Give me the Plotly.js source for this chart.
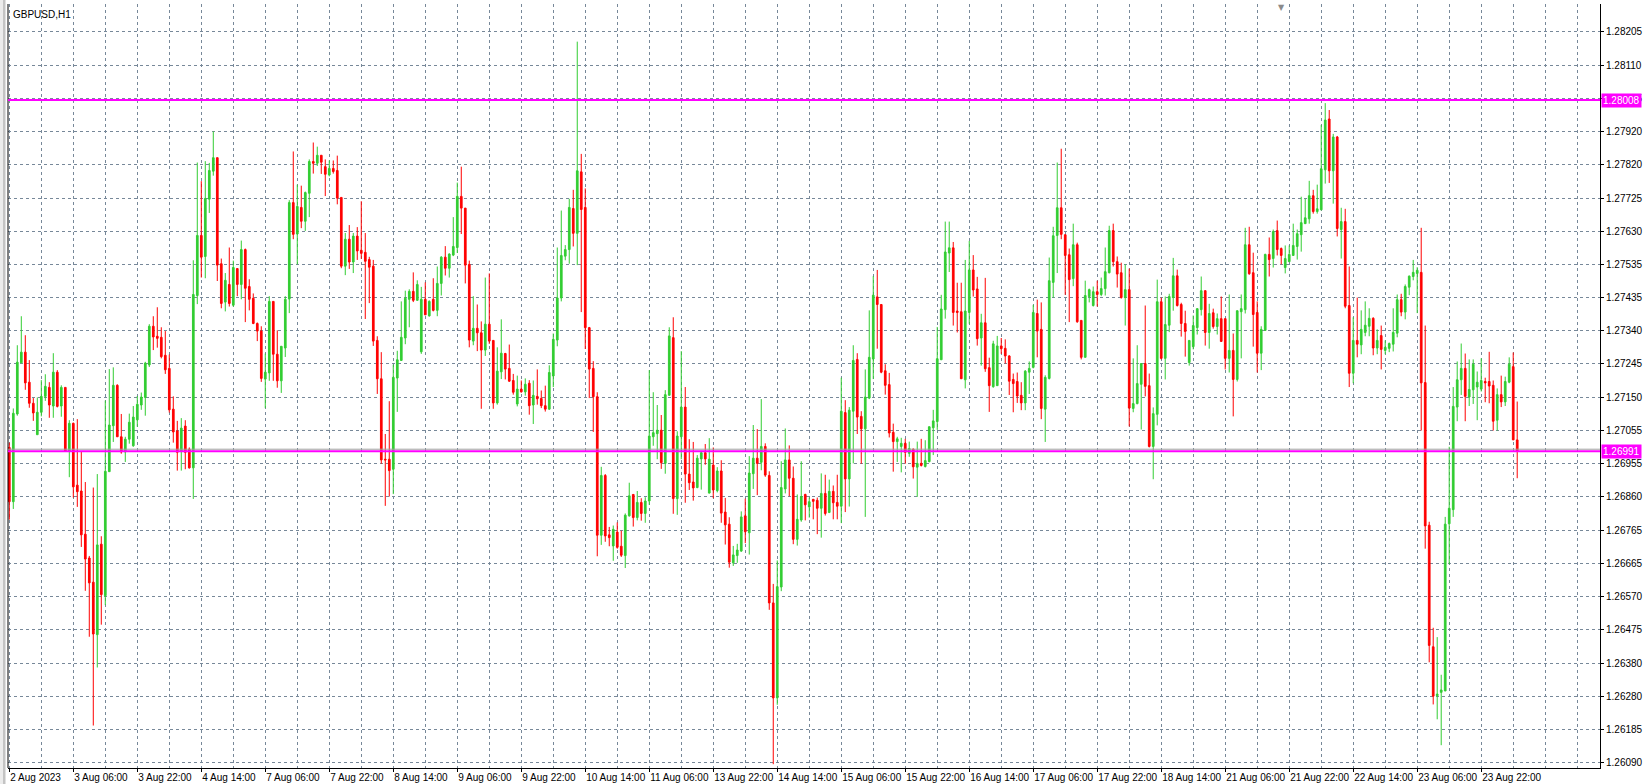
<!DOCTYPE html>
<html><head><meta charset="utf-8">
<script src="https://cdn.plot.ly/plotly-3.0.1.min.js"></script>
<style>html,body{margin:0;padding:0;background:#fff;overflow:hidden}#chart{width:1645px;height:784px}</style>
</head><body><div id="chart"></div>
<script>
const symbolTitle = "GBPUSD,H1";

const openPrices = [
1.27002,1.26845,1.27099,1.27247,1.27278,1.27191,1.27130,1.27039,1.27104,1.27150,
1.27176,1.27122,1.27220,1.27122,1.27176,1.26991,1.27072,1.26893,1.26876,1.26751,
1.26682,1.26612,1.26460,1.26722,1.26573,1.26932,1.27065,1.27182,1.27033,1.26989,
1.27026,1.27007,1.27082,1.27125,1.27147,1.27241,1.27353,1.27324,1.27321,1.27269,
1.27231,1.27113,1.27050,1.26990,1.27064,1.26997,1.26943,1.27442,1.27616,1.27555,
1.27721,1.27802,1.27841,1.27534,1.27423,1.27474,1.27414,1.27520,1.27474,1.27575,
1.27468,1.27434,1.27361,1.27339,1.27200,1.27218,1.27425,1.27272,1.27195,1.27290,
1.27432,1.27711,1.27620,1.27697,1.27657,1.27738,1.27830,1.27825,1.27848,1.27815,
1.27791,1.27810,1.27804,1.27726,1.27527,1.27605,1.27539,1.27614,1.27573,1.27567,
1.27546,1.27527,1.27312,1.27201,1.26968,1.26968,1.26939,1.27203,1.27254,1.27319,
1.27431,1.27454,1.27428,1.27279,1.27431,1.27383,1.27431,1.27399,1.27477,1.27553,
1.27521,1.27559,1.27581,1.27729,1.27695,1.27532,1.27310,1.27347,1.27334,1.27284,
1.27359,1.27312,1.27131,1.27221,1.27274,1.27231,1.27196,1.27128,1.27171,1.27163,
1.27188,1.27125,1.27150,1.27144,1.27123,1.27113,1.27209,1.27313,1.27435,1.27556,
1.27575,1.27694,1.27622,1.27800,1.27697,1.27349,1.27231,1.27149,1.26748,1.26921,
1.26749,1.26717,1.26757,1.26716,1.26689,1.26804,1.26866,1.26799,1.26843,1.26811,
1.26847,1.27033,1.27042,1.27052,1.26956,1.27153,1.27320,1.26854,1.27033,1.27119,
1.26925,1.26902,1.26886,1.26969,1.26987,1.26870,1.26951,1.26877,1.26934,1.26815,
1.26780,1.26668,1.26689,1.26702,1.26804,1.26755,1.26926,1.26971,1.26959,1.27005,
1.26921,1.26552,1.26277,1.26598,1.26882,1.26966,1.26913,1.26736,1.26792,1.26866,
1.26830,1.26852,1.26849,1.26826,1.26869,1.26814,1.26875,1.26843,1.26832,1.27103,
1.26911,1.27107,1.27257,1.27092,1.27056,1.27145,1.27258,1.27438,1.27416,1.27224,
1.27184,1.27046,1.27019,1.27005,1.27014,1.26985,1.26997,1.26945,1.26956,1.26947,
1.26961,1.27059,1.27077,1.27256,1.27401,1.27565,1.27580,1.27397,1.27395,1.27198,
1.27393,1.27516,1.27461,1.27319,1.27363,1.27233,1.27178,1.27181,1.27296,1.27289,
1.27267,1.27199,1.27193,1.27153,1.27131,1.27220,1.27234,1.27390,1.27344,1.27113,
1.27202,1.27480,1.27616,1.27696,1.27618,1.27560,1.27491,1.27589,1.27370,1.27263,
1.27439,1.27413,1.27453,1.27445,1.27462,1.27508,1.27630,1.27540,1.27508,1.27436,
1.27459,1.27115,1.27129,1.27185,1.27245,1.27181,1.27005,1.27098,1.27424,1.27260,
1.27356,1.27436,1.27499,1.27416,1.27361,1.27248,1.27294,1.27349,1.27401,1.27456,
1.27335,1.27392,1.27352,1.27375,1.27375,1.27260,1.27283,1.27199,1.27395,1.27401,
1.27589,1.27508,1.27393,1.27275,1.27341,1.27561,1.27549,1.27630,1.27578,1.27523,
1.27540,1.27558,1.27584,1.27618,1.27650,1.27664,1.27731,1.27685,1.27690,1.27806,
1.27953,1.27803,1.27901,1.27633,1.27656,1.27413,1.27217,1.27312,1.27299,1.27335,
1.27353,1.27376,1.27290,1.27326,1.27283,1.27289,1.27301,1.27333,1.27430,1.27394,
1.27466,1.27497,1.27506,1.27509,1.27190,1.26777,1.26425,1.26283,1.26293,1.26297,
1.26781,1.26822,1.27119,1.27198,1.27231,1.27148,1.27169,1.27177,1.27171,1.27193,
1.27193,1.27182,1.27081,1.27155,1.27134,1.27191,1.27236,1.27024
];

const highPrices = [
1.27016,1.27115,1.27298,1.27382,1.27327,1.27255,1.27145,1.27147,1.27197,1.27214,
1.27191,1.27275,1.27226,1.27182,1.27176,1.27081,1.27074,1.27084,1.26991,1.26902,
1.26688,1.26886,1.26925,1.26745,1.27138,1.27229,1.27234,1.27185,1.27099,1.27033,
1.27100,1.27122,1.27151,1.27161,1.27250,1.27359,1.27382,1.27408,1.27350,1.27339,
1.27271,1.27150,1.27079,1.27087,1.27081,1.27002,1.27544,1.27827,1.27773,1.27831,
1.27826,1.27917,1.27841,1.27549,1.27507,1.27581,1.27543,1.27520,1.27601,1.27578,
1.27489,1.27448,1.27364,1.27353,1.27274,1.27440,1.27425,1.27341,1.27295,1.27440,
1.27718,1.27859,1.27763,1.27760,1.27743,1.27836,1.27885,1.27873,1.27848,1.27836,
1.27833,1.27833,1.27847,1.27726,1.27623,1.27646,1.27623,1.27640,1.27715,1.27623,
1.27554,1.27545,1.27324,1.27278,1.27041,1.27136,1.27242,1.27282,1.27425,1.27456,
1.27460,1.27509,1.27486,1.27467,1.27480,1.27428,1.27492,1.27526,1.27556,1.27585,
1.27564,1.27669,1.27769,1.27815,1.27695,1.27543,1.27440,1.27416,1.27367,1.27494,
1.27506,1.27312,1.27292,1.27373,1.27276,1.27300,1.27215,1.27210,1.27196,1.27202,
1.27197,1.27196,1.27228,1.27167,1.27181,1.27240,1.27332,1.27581,1.27688,1.27588,
1.27722,1.27748,1.28177,1.27852,1.27752,1.27351,1.27252,1.27162,1.26946,1.26925,
1.26772,1.26776,1.26785,1.26761,1.26811,1.26900,1.26866,1.26876,1.26855,1.26858,
1.27226,1.27162,1.27125,1.27096,1.27168,1.27350,1.27379,1.27049,1.27281,1.27177,
1.27026,1.27018,1.26980,1.26992,1.27012,1.27029,1.27002,1.26945,1.26965,1.26856,
1.26800,1.26717,1.26723,1.26817,1.26854,1.26977,1.27067,1.27055,1.27142,1.27014,
1.26933,1.26607,1.26675,1.26962,1.27057,1.27008,1.26947,1.26866,1.26962,1.26868,
1.26857,1.26852,1.26857,1.26927,1.26923,1.26909,1.26892,1.26923,1.27204,1.27139,
1.27119,1.27298,1.27275,1.27107,1.27228,1.27399,1.27498,1.27516,1.27416,1.27243,
1.27218,1.27071,1.27033,1.27030,1.27027,1.27019,1.26999,1.27019,1.27027,1.27023,
1.27063,1.27111,1.27351,1.27444,1.27656,1.27656,1.27597,1.27479,1.27479,1.27545,
1.27600,1.27559,1.27496,1.27389,1.27493,1.27262,1.27311,1.27325,1.27319,1.27315,
1.27269,1.27216,1.27219,1.27191,1.27226,1.27251,1.27415,1.27430,1.27422,1.27211,
1.27552,1.27641,1.27827,1.27867,1.27618,1.27578,1.27650,1.27595,1.27370,1.27485,
1.27462,1.27468,1.27485,1.27494,1.27581,1.27644,1.27650,1.27555,1.27537,1.27532,
1.27520,1.27260,1.27298,1.27245,1.27413,1.27216,1.27118,1.27488,1.27436,1.27439,
1.27447,1.27551,1.27517,1.27421,1.27398,1.27312,1.27384,1.27404,1.27497,1.27456,
1.27418,1.27404,1.27390,1.27439,1.27375,1.27445,1.27332,1.27398,1.27445,1.27638,
1.27641,1.27566,1.27425,1.27353,1.27563,1.27610,1.27633,1.27659,1.27581,1.27587,
1.27587,1.27650,1.27633,1.27728,1.27722,1.27774,1.27748,1.27763,1.27936,1.27999,
1.27979,1.27910,1.27904,1.27696,1.27693,1.27526,1.27379,1.27436,1.27399,1.27425,
1.27405,1.27379,1.27344,1.27355,1.27312,1.27306,1.27405,1.27445,1.27447,1.27474,
1.27500,1.27545,1.27524,1.27638,1.27355,1.26787,1.26480,1.26453,1.26344,1.26801,
1.27004,1.27177,1.27251,1.27303,1.27274,1.27257,1.27257,1.27222,1.27260,1.27204,
1.27279,1.27196,1.27173,1.27210,1.27207,1.27263,1.27277,1.27135
];

const lowPrices = [
1.26793,1.26824,1.27094,1.27247,1.27169,1.27117,1.27079,1.27039,1.27092,1.27137,
1.27088,1.27088,1.27118,1.27091,1.26991,1.26916,1.26857,1.26830,1.26714,1.26587,
1.26454,1.26197,1.26365,1.26489,1.26546,1.26932,1.27018,1.27033,1.26984,1.26960,
1.27013,1.27004,1.27062,1.27111,1.27094,1.27235,1.27284,1.27291,1.27260,1.27215,
1.27103,1.27016,1.26935,1.26935,1.26939,1.26941,1.26853,1.27417,1.27494,1.27492,
1.27681,1.27789,1.27484,1.27405,1.27396,1.27410,1.27410,1.27440,1.27431,1.27365,
1.27399,1.27359,1.27310,1.27192,1.27116,1.27195,1.27195,1.27175,1.27160,1.27264,
1.27391,1.27605,1.27532,1.27637,1.27629,1.27669,1.27795,1.27817,1.27794,1.27730,
1.27787,1.27795,1.27706,1.27521,1.27501,1.27519,1.27507,1.27545,1.27548,1.27374,
1.27420,1.27296,1.27157,1.26955,1.26833,1.26860,1.26867,1.27105,1.27253,1.27301,
1.27350,1.27423,1.27428,1.27273,1.27386,1.27381,1.27396,1.27382,1.27442,1.27500,
1.27494,1.27556,1.27565,1.27620,1.27477,1.27292,1.27298,1.27281,1.27114,1.27267,
1.27302,1.27114,1.27126,1.27200,1.27199,1.27192,1.27155,1.27121,1.27161,1.27152,
1.27097,1.27070,1.27126,1.27116,1.27106,1.27111,1.27177,1.27295,1.27425,1.27544,
1.27534,1.27584,1.27530,1.27394,1.27287,1.27145,1.27047,1.26687,1.26720,1.26729,
1.26716,1.26674,1.26709,1.26685,1.26653,1.26802,1.26773,1.26791,1.26790,1.26784,
1.26836,1.27007,1.26968,1.26940,1.26926,1.27153,1.26810,1.26807,1.26968,1.26842,
1.26879,1.26848,1.26884,1.26880,1.26952,1.26869,1.26855,1.26872,1.26784,1.26721,
1.26654,1.26659,1.26668,1.26700,1.26725,1.26692,1.26882,1.26864,1.26936,1.26917,
1.26532,1.26085,1.26257,1.26586,1.26869,1.26861,1.26722,1.26718,1.26787,1.26791,
1.26799,1.26794,1.26751,1.26741,1.26805,1.26812,1.26794,1.26794,1.26783,1.26815,
1.26831,1.26956,1.27041,1.26955,1.26801,1.27142,1.27200,1.27288,1.27217,1.27155,
1.27031,1.26932,1.26960,1.26930,1.26955,1.26975,1.26912,1.26859,1.26947,1.26944,
1.26959,1.26980,1.27053,1.27256,1.27375,1.27510,1.27355,1.27335,1.27201,1.27173,
1.27360,1.27439,1.27297,1.27239,1.27221,1.27105,1.27175,1.27181,1.27273,1.27245,
1.27154,1.27104,1.27131,1.27110,1.27110,1.27157,1.27231,1.27263,1.27084,1.27018,
1.27199,1.27436,1.27507,1.27605,1.27444,1.27365,1.27469,1.27363,1.27257,1.27263,
1.27422,1.27410,1.27410,1.27440,1.27442,1.27506,1.27526,1.27465,1.27433,1.27355,
1.27063,1.27104,1.27127,1.27054,1.27150,1.27002,1.26910,1.27066,1.27257,1.27199,
1.27336,1.27398,1.27410,1.27323,1.27265,1.27239,1.27286,1.27329,1.27384,1.27297,
1.27288,1.27346,1.27329,1.27309,1.27228,1.27219,1.27092,1.27193,1.27260,1.27390,
1.27502,1.27294,1.27219,1.27226,1.27341,1.27497,1.27523,1.27558,1.27532,1.27506,
1.27540,1.27558,1.27546,1.27569,1.27650,1.27650,1.27679,1.27679,1.27690,1.27766,
1.27768,1.27708,1.27613,1.27549,1.27405,1.27177,1.27188,1.27263,1.27272,1.27324,
1.27324,1.27269,1.27272,1.27228,1.27272,1.27278,1.27280,1.27321,1.27382,1.27373,
1.27443,1.27486,1.27391,1.27051,1.26709,1.26380,1.26258,1.26215,1.26140,1.26297,
1.26664,1.26801,1.27078,1.27154,1.27078,1.27122,1.27128,1.27081,1.27164,1.27133,
1.27130,1.27051,1.27051,1.27119,1.27122,1.27188,1.27024,1.26913
];

const closePrices = [
1.26845,1.27101,1.27249,1.27278,1.27189,1.27130,1.27102,1.27104,1.27150,1.27179,
1.27125,1.27220,1.27121,1.27176,1.26991,1.27072,1.26888,1.26874,1.26749,1.26679,
1.26610,1.26462,1.26720,1.26576,1.26933,1.27067,1.27182,1.27033,1.26989,1.27026,
1.27075,1.27090,1.27127,1.27148,1.27246,1.27353,1.27322,1.27318,1.27265,1.27227,
1.27111,1.27047,1.26988,1.27058,1.26988,1.26943,1.27445,1.27616,1.27553,1.27723,
1.27804,1.27841,1.27530,1.27419,1.27486,1.27419,1.27523,1.27474,1.27575,1.27463,
1.27431,1.27361,1.27339,1.27202,1.27220,1.27425,1.27272,1.27195,1.27295,1.27431,
1.27711,1.27619,1.27700,1.27657,1.27740,1.27830,1.27825,1.27848,1.27828,1.27793,
1.27810,1.27801,1.27724,1.27527,1.27605,1.27539,1.27614,1.27571,1.27564,1.27541,
1.27524,1.27310,1.27201,1.26966,1.26966,1.26935,1.27205,1.27256,1.27321,1.27434,
1.27454,1.27428,1.27474,1.27431,1.27386,1.27425,1.27399,1.27477,1.27553,1.27521,
1.27562,1.27584,1.27729,1.27695,1.27530,1.27313,1.27347,1.27334,1.27284,1.27359,
1.27310,1.27131,1.27223,1.27275,1.27229,1.27194,1.27162,1.27171,1.27163,1.27185,
1.27123,1.27153,1.27143,1.27123,1.27113,1.27219,1.27315,1.27435,1.27558,1.27575,
1.27697,1.27622,1.27803,1.27691,1.27349,1.27229,1.27149,1.26748,1.26921,1.26746,
1.26741,1.26765,1.26713,1.26690,1.26806,1.26862,1.26799,1.26843,1.26811,1.26847,
1.27035,1.27045,1.27052,1.26958,1.27155,1.27325,1.26854,1.27035,1.27119,1.26925,
1.26900,1.26885,1.26971,1.26987,1.26969,1.26968,1.26879,1.26934,1.26812,1.26778,
1.26670,1.26691,1.26705,1.26801,1.26758,1.26928,1.26971,1.26956,1.27005,1.26922,
1.26552,1.26277,1.26599,1.26886,1.26966,1.26913,1.26736,1.26794,1.26860,1.26836,
1.26845,1.26846,1.26826,1.26869,1.26811,1.26875,1.26842,1.26832,1.27107,1.26911,
1.27110,1.27254,1.27090,1.27056,1.27148,1.27263,1.27443,1.27416,1.27220,1.27182,
1.27044,1.27019,1.27027,1.27014,1.26988,1.26999,1.26946,1.26956,1.26950,1.26964,
1.27062,1.27079,1.27259,1.27403,1.27568,1.27580,1.27393,1.27393,1.27201,1.27397,
1.27516,1.27458,1.27317,1.27363,1.27230,1.27181,1.27302,1.27296,1.27288,1.27267,
1.27194,1.27187,1.27151,1.27131,1.27223,1.27231,1.27393,1.27339,1.27115,1.27205,
1.27485,1.27615,1.27696,1.27619,1.27558,1.27488,1.27589,1.27366,1.27263,1.27442,
1.27459,1.27453,1.27445,1.27462,1.27511,1.27630,1.27540,1.27504,1.27436,1.27459,
1.27116,1.27129,1.27187,1.27245,1.27179,1.27005,1.27100,1.27424,1.27260,1.27358,
1.27439,1.27499,1.27413,1.27361,1.27338,1.27312,1.27355,1.27404,1.27456,1.27335,
1.27390,1.27352,1.27375,1.27309,1.27260,1.27283,1.27199,1.27398,1.27404,1.27589,
1.27505,1.27387,1.27275,1.27344,1.27561,1.27546,1.27627,1.27575,1.27558,1.27549,
1.27561,1.27587,1.27621,1.27653,1.27667,1.27731,1.27685,1.27693,1.27809,1.27950,
1.27803,1.27901,1.27636,1.27656,1.27411,1.27217,1.27312,1.27301,1.27344,1.27356,
1.27376,1.27290,1.27312,1.27286,1.27292,1.27303,1.27335,1.27430,1.27394,1.27468,
1.27498,1.27509,1.27515,1.27189,1.26775,1.26429,1.26282,1.26288,1.26300,1.26780,
1.26826,1.27121,1.27198,1.27231,1.27150,1.27170,1.27243,1.27191,1.27196,1.27189,
1.27180,1.27078,1.27155,1.27134,1.27193,1.27243,1.27024,1.26991
];

const xTickBars = [0,16,32,48,64,80,96,112,128,144,160,176,192,208,224,240,256,272,288,304,320,336,352,368];
const xTickLabels = ["2 Aug 2023","3 Aug 06:00","3 Aug 22:00","4 Aug 14:00","7 Aug 06:00","7 Aug 22:00","8 Aug 14:00","9 Aug 06:00","9 Aug 22:00","10 Aug 14:00","11 Aug 06:00","13 Aug 22:00","14 Aug 14:00","15 Aug 06:00","15 Aug 22:00","16 Aug 14:00","17 Aug 06:00","17 Aug 22:00","18 Aug 14:00","21 Aug 06:00","21 Aug 22:00","22 Aug 14:00","23 Aug 06:00","23 Aug 22:00"];

const yTickValues = [1.28205,1.28109,1.28013,1.27917,1.27820,1.27724,1.27628,1.27532,1.27436,1.27340,1.27244,1.27148,1.27051,1.26955,1.26859,1.26763,1.26667,1.26571,1.26475,1.26378,1.26282,1.26186,1.26090];
const yTickLabels = ["1.28205","1.28110","1.28015","1.27920","1.27820","1.27725","1.27630","1.27535","1.27435","1.27340","1.27245","1.27150","1.27055","1.26955","1.26860","1.26765","1.26665","1.26570","1.26475","1.26380","1.26280","1.26185","1.26090"];

const levelPrice = 1.28008;
const bidPrice = 1.26991;
const askPrice = 1.26997;

const barIndex = openPrices.map((_, i) => i);
const GRID = '#778899';
const DASH = '3px,3px';
const FONT = 'Liberation Sans, Arial, sans-serif';

const trace = {
  type: 'candlestick',
  x: barIndex,
  open: openPrices, high: highPrices, low: lowPrices, close: closePrices,
  increasing: {line: {color: '#32CD32', width: 1}, fillcolor: '#32CD32'},
  decreasing: {line: {color: '#FF0000', width: 1}, fillcolor: '#FF0000'},
  whiskerwidth: 0,
  hoverinfo: 'skip',
  showlegend: false
};

const px = p => (p - 8) / 1592;

const layout = {
  width: 1645, height: 784,
  margin: {l: 8, r: 45, t: 4, b: 16, pad: 0},
  paper_bgcolor: '#ffffff', plot_bgcolor: '#ffffff',
  showlegend: false, hovermode: false, dragmode: false,
  boxgap: 0.4,
  font: {family: FONT, size: 10, color: '#000'},
  xaxis: {
    type: 'linear', range: [-0.325, 397.7], fixedrange: true,
    rangeslider: {visible: false},
    tickmode: 'array', tickvals: xTickBars, ticktext: xTickLabels,
    ticklabelposition: 'outside right', tickangle: 0,
    ticks: 'outside', ticklen: 3, tickcolor: '#000', tickwidth: 1,
    tickfont: {family: FONT, size: 10, color: '#000'},
    showgrid: true, gridcolor: GRID, griddash: DASH, gridwidth: 1,
    minor: {tickmode: 'linear', tick0: 0, dtick: 8, showgrid: true, gridcolor: GRID, griddash: DASH, gridwidth: 1, ticks: ''},
    showline: true, linecolor: '#000', linewidth: 1, zeroline: false
  },
  yaxis: {
    side: 'right', range: [1.26074, 1.28286], fixedrange: true,
    tickmode: 'array', tickvals: yTickValues, ticktext: yTickLabels,
    ticks: 'outside', ticklen: 3, tickcolor: '#000', tickwidth: 1,
    tickfont: {family: FONT, size: 10, color: '#000'},
    showgrid: true, gridcolor: GRID, griddash: DASH, gridwidth: 1,
    showline: true, linecolor: '#000', linewidth: 1, zeroline: false
  },
  shapes: [
    {type: 'rect', xref: 'paper', yref: 'paper', x0: px(0), x1: px(3), y0: -0.03, y1: 1.01, fillcolor: '#ececec', line: {width: 0}},
    {type: 'rect', xref: 'paper', yref: 'paper', x0: px(3), x1: px(5.5), y0: -0.03, y1: 1.01, fillcolor: '#c4c4c4', line: {width: 0}},
    {type: 'line', xref: 'paper', yref: 'paper', x0: 0, x1: 0, y0: 0, y1: 1, line: {color: '#000', width: 1}},
    {type: 'line', xref: 'paper', yref: 'y', x0: 0, x1: 1, y0: levelPrice, y1: levelPrice, line: {color: '#FF00FF', width: 2}},
    {type: 'line', xref: 'paper', yref: 'y', x0: 0, x1: 1, y0: askPrice, y1: askPrice, line: {color: '#a0a0a0', width: 1}},
    {type: 'line', xref: 'paper', yref: 'y', x0: 0, x1: 1, y0: bidPrice, y1: bidPrice, line: {color: '#FF00FF', width: 2}}
  ],
  annotations: [
    {xref: 'paper', yref: 'paper', x: 0, y: 1, xanchor: 'left', yanchor: 'top', xshift: 3, yshift: -3,
     text: symbolTitle, showarrow: false, font: {family: FONT, size: 10, color: '#000'}},
    {xref: 'paper', yref: 'y', x: 1, y: levelPrice, xanchor: 'left', yanchor: 'middle', xshift: 1,
     text: levelPrice.toFixed(5), showarrow: false, bgcolor: '#FF00FF', borderpad: 1,
     font: {family: FONT, size: 10, color: '#ffffff'}},
    {xref: 'paper', yref: 'y', x: 1, y: bidPrice, xanchor: 'left', yanchor: 'middle', xshift: 1,
     text: bidPrice.toFixed(5), showarrow: false, bgcolor: '#FF00FF', borderpad: 1,
     font: {family: FONT, size: 10, color: '#ffffff'}},
    {xref: 'x', yref: 'paper', x: 318, y: 1, xanchor: 'center', yanchor: 'top', yshift: 3,
     text: '▼', showarrow: false, font: {family: 'DejaVu Sans', size: 8, color: '#8a8a8a'}}
  ]
};

Plotly.newPlot('chart', [trace], layout, {displayModeBar: false, staticPlot: true});
</script></body></html>
